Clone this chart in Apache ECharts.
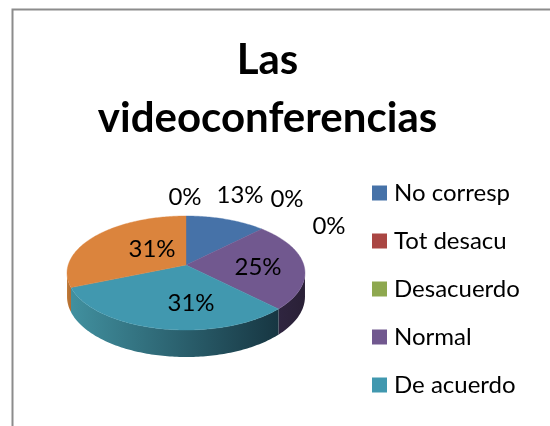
<!DOCTYPE html>
<html>
<head>
<meta charset="utf-8">
<style>html,body{margin:0;padding:0;background:#fff}#c{width:550px;height:426px}</style>
<script src="https://cdn.jsdelivr.net/npm/echarts@6/dist/echarts.min.js"></script>
</head>
<body>
<div id="c"></div>
<script>
// Data
const chartTitle = 'Las\nvideoconferencias';
const categories = ['No corresp', 'Tot desacu', 'Desacuerdo', 'Normal', 'De acuerdo', 'Tot acuerdo', 'Otros'];
const counts = [2, 0, 0, 4, 5, 5, 0];
const legendCategories = ['No corresp', 'Tot desacu', 'Desacuerdo', 'Normal', 'De acuerdo'];

// Style and layout
const topColors = ['#4672a8', '#aa4643', '#8ea84f', '#71588f', '#4198af', '#db843d', '#4672a8'];
const wallStops = [
  ['#2e4a6c', '#2e4a6c'], ['#6e2d2b', '#6e2d2b'], ['#5c6d33', '#5c6d33'],
  ['#2f2540', '#2a2036'], ['#41909f', '#173642'], ['#c07a38', '#b06a2f'], ['#2e4a6c', '#2e4a6c']
];
const labelCenters = [[240, 195], [287, 199], [329, 226], [258, 267], [191, 303], [152, 249], [185, 197]];
const FONT = 'Lato, "Open Sans", sans-serif';
const P = { cx: 186, cy: 265, rx: 117.8, ry: 55.9, persp: 0.1403, depth: 23.2 };

const total = counts.reduce((a, b) => a + b, 0);
const starts = [];
counts.reduce((acc, v, i) => { starts[i] = acc; return acc + v; }, 0);

function rim(deg, drop) {
  const a = deg * Math.PI / 180;
  const u = Math.sin(a), v = -Math.cos(a), w = 1 - P.persp * v;
  return [P.cx + P.rx * u / w, P.cy + P.ry * v / w + (drop ? P.depth / w : 0)];
}
function arc(a0, a1, drop) {
  const pts = [], n = Math.max(2, Math.ceil(Math.abs(a1 - a0)));
  for (let i = 0; i <= n; i++) pts.push(rim(a0 + (a1 - a0) * i / n, drop));
  return pts;
}

function makeSeries(name, i) {
  return {
    type: 'custom',
    name: name,
    coordinateSystem: 'none',
    itemStyle: { color: topColors[i] },
    silent: true,
    animation: false,
    data: [[counts[i], starts[i]]],
    renderItem: function (params, api) {
      const value = api.value(0), start = api.value(1);
      const a0 = start / total * 360, a1 = (start + value) / total * 360;
      const children = [];
      if (value > 0) {
        const w0 = Math.max(a0, 98), w1 = Math.min(a1, 262);
        if (w1 > w0) {
          children.push({
            type: 'polygon',
            shape: { points: arc(w0, w1, false).concat(arc(w1, w0, true)) },
            style: {
              fill: {
                type: 'linear', x: 0, y: 0, x2: 1, y2: 0,
                colorStops: [
                  { offset: 0, color: wallStops[i][0] },
                  { offset: 1, color: wallStops[i][1] }
                ]
              }
            }
          });
        }
        children.push({
          type: 'polygon',
          shape: { points: [[P.cx, P.cy]].concat(arc(a0, a1, false)) },
          style: { fill: topColors[i], stroke: topColors[i], lineWidth: 0.4 }
        });
      }
      children.push({
        type: 'text',
        z2: 20,
        style: {
          x: labelCenters[i][0], y: labelCenters[i][1],
          text: Math.round(value / total * 100) + '%',
          fill: '#000', font: '24px ' + FONT, align: 'center', verticalAlign: 'middle'
        }
      });
      return { type: 'group', children: children };
    }
  };
}

const chart = echarts.init(document.getElementById('c'), null, { renderer: 'canvas' });
chart.setOption({
  backgroundColor: '#fff',
  animation: false,
  title: {
    text: chartTitle,
    left: 262.5, top: 26.5, textAlign: 'center',
    textStyle: { fontFamily: FONT, fontWeight: 'bold', fontSize: 42, lineHeight: 58, color: '#000' }
  },
  legend: {
    data: legendCategories,
    orient: 'vertical',
    left: 367, top: 176,
    itemWidth: 15, itemHeight: 15, itemGap: 24,
    selectedMode: false,
    icon: 'rect',
    textStyle: { fontFamily: FONT, fontSize: 24, color: '#000', padding: [0, 0, 0, 2] }
  },
  graphic: [
    { type: 'polyline', silent: true, shape: { points: [[12.5, 430], [12.5, 9.5], [555, 9.5]] }, style: { stroke: '#8c8c8c', lineWidth: 2, fill: null } }
  ],
  series: categories.map(makeSeries)
});
</script>
</body>
</html>
